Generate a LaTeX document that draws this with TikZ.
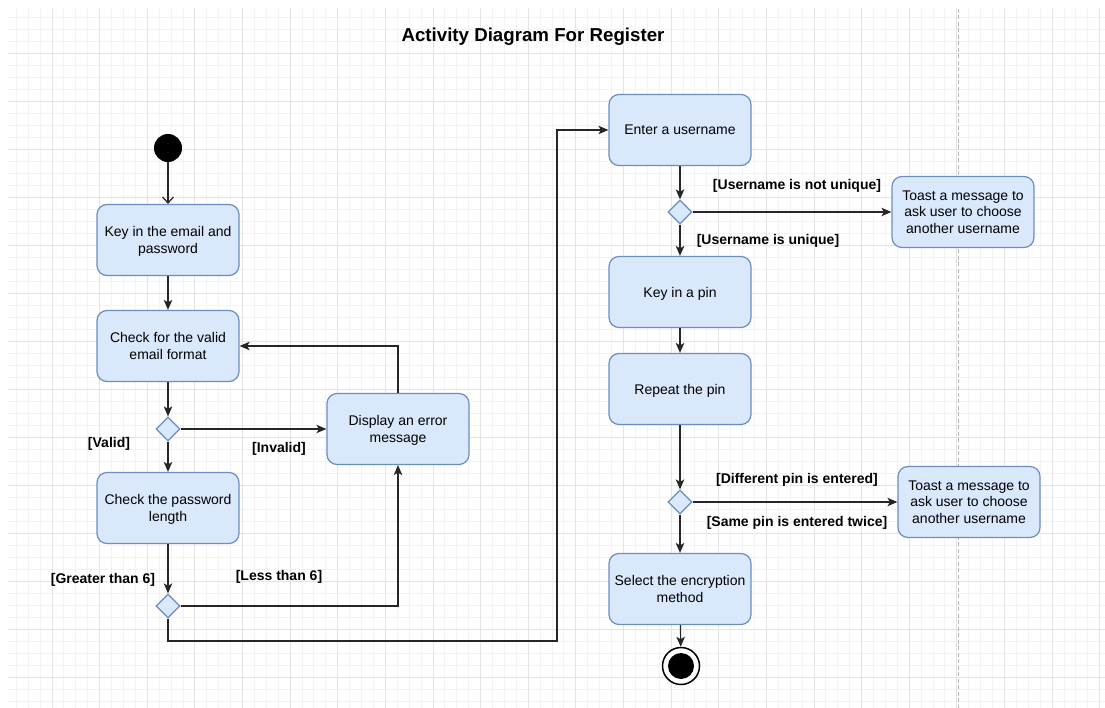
\documentclass[tikz,border=0pt]{standalone}
\usepackage{fontspec}
\setmainfont{Liberation Sans}
\usetikzlibrary{arrows.meta,shapes.geometric}

\definecolor{boxfill}{HTML}{DAE8FC}
\definecolor{boxline}{HTML}{6C8EBF}
\definecolor{minorgrid}{HTML}{F3F3F3}
\definecolor{majorgrid}{HTML}{E4E4E4}
\definecolor{lanegray}{HTML}{B8B8B8}

\newcommand\actfont{\fontsize{14}{16.5}\selectfont}
\newcommand\guardfont{\fontsize{14}{16.5}\selectfont\bfseries}
\newcommand\titlefont{\fontsize{18.7}{22}\selectfont\bfseries}

\tikzset{
  act/.style={rectangle, rounded corners=10pt, draw=boxline, fill=boxfill,
    line width=1.2pt, minimum width=142pt, minimum height=71pt,
    align=center, font=\actfont, inner sep=2pt, text depth=0pt},
  decision/.style={diamond, draw=boxline, fill=boxfill, line width=1.2pt,
    minimum width=24pt, minimum height=24pt, inner sep=0pt},
  guard/.style={font=\guardfont, inner sep=0pt},
  flow/.style={draw=black!85, line width=1.2pt,
    -{Stealth[length=10pt,width=8.5pt,inset=2.5pt]}},
  startflow/.style={draw=black!85, line width=1.2pt,
    -{Straight Barb[length=6pt,width=11pt]}},
}

\begin{document}
\begin{tikzpicture}[x=1pt,y=-1pt]
  \useasboundingbox (0,0) rectangle (1105,708);
  \fill[white] (0,0) rectangle (1105,708);

  % background grid
  \begin{scope}
    \clip (8,9) rectangle (1105,708);
    \foreach \i in {0,...,93}
      \draw[minorgrid, line width=0.9pt] ({4.4+\i*11.905},0) -- ++(0,708);
    \foreach \j in {0,...,59}
      \draw[minorgrid, line width=0.9pt] (0,{5+\j*12}) -- ++(1105,0);
    \foreach \i in {0,...,23}
      \draw[majorgrid, line width=0.9pt] ({4.4+\i*47.62},0) -- ++(0,708);
    \foreach \j in {0,...,15}
      \draw[majorgrid, line width=0.9pt] (0,{5+\j*48}) -- ++(1105,0);
  \end{scope}

  % page separator
  \draw[lanegray, line width=1pt, dash pattern=on 4pt off 2.5pt] (958,9) -- (958,708);

  % title
  \node[font=\titlefont] (title) at (533,37) {Activity Diagram For Register};

  % left column: email and password
  \node[circle, fill=black, minimum size=28pt, inner sep=0pt] (start) at (168,148) {};
  \node[act] (key) at (168,240) {Key in the email and\\password};
  \node[act] (check) at (168,346) {Check for the valid\\email format};
  \node[decision] (d1) at (168,429) {};
  \node[act] (len) at (168,508) {Check the password\\length};
  \node[decision] (d2) at (168,606) {};
  \node[act] (err) at (398,429) {Display an error\\message};

  % right column: username and pin
  \node[act] (user) at (680,130) {Enter a username};
  \node[decision] (d3) at (680,212) {};
  \node[act] (toast1) at (963,212) {Toast a message to\\ask user to choose\\another username};
  \node[act] (pin) at (680,292) {Key in a pin};
  \node[act] (rep) at (680,389) {Repeat the pin};
  \node[decision] (d4) at (680,502) {};
  \node[act] (toast2) at (969,502) {Toast a message to\\ask user to choose\\another username};
  \node[act] (enc) at (680,589) {Select the encryption\\method};
  \node[circle, draw=black, fill=white, line width=1.5pt, minimum size=37pt, inner sep=0pt] (finish) at (681,666) {};
  \node[circle, fill=black, minimum size=26pt, inner sep=0pt] (finishdot) at (681,666) {};

  \coordinate (detour) at (557,641);

  % connectors
  \draw[startflow] (start) -- (key);
  \draw[flow] (key) -- (check);
  \draw[flow] (check) -- (d1);
  \draw[flow] (d1) -- (len);
  \draw[flow] (d1) -- (err);
  \draw[flow] (len) -- (d2);
  \draw[flow] (d2.east) -| (err.south);
  \draw[flow] (err.north) |- (check.east);
  \draw[flow] (d2.south) |- (detour) |- (user.west);
  \draw[flow] (user) -- (d3);
  \draw[flow] (d3) -- (toast1);
  \draw[flow] (d3) -- (pin);
  \draw[flow] (pin) -- (rep);
  \draw[flow] (rep) -- (d4);
  \draw[flow] (d4) -- (toast2);
  \draw[flow] (d4) -- (enc);
  \draw[flow] (enc) -- (finish);

  % guard labels
  \node[guard] (gvalid) at (109,444) {[Valid]};
  \node[guard] (ginvalid) at (279,449) {[Invalid]};
  \node[guard] (ggreater) at (103,580) {[Greater than 6]};
  \node[guard] (gless) at (279,577) {[Less than 6]};
  \node[guard] (gnotunique) at (797,186) {[Username is not unique]};
  \node[guard] (gunique) at (768,241) {[Username is unique]};
  \node[guard] (gdiff) at (797,480) {[Different pin is entered]};
  \node[guard] (gsame) at (797,523) {[Same pin is entered twice]};
\end{tikzpicture}
\end{document}
